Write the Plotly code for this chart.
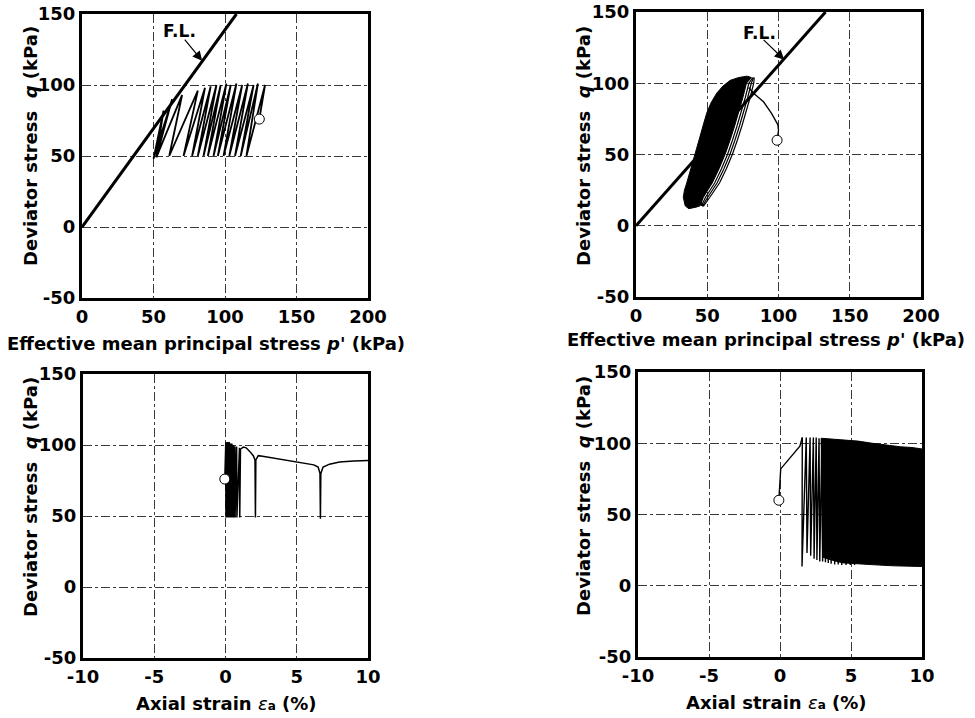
import plotly.graph_objects as go

# ---------------- data ----------------
# Top-left: effective stress path, test A
fl_a_p = [0, 108]
fl_a_q = [0, 150]
tl_p = [124, 128, 115, 123, 111, 120, 107, 116, 103, 112, 99, 108, 95, 104, 92, 101,
        88, 97, 85, 94, 81, 90, 77, 86, 71, 81, 61, 70, 52, 63, 50, 57, 52]
tl_q = [76, 100, 50, 101, 50, 100, 50, 101, 50, 100, 50, 101, 50, 100, 50, 101,
        50, 100, 50, 100, 50, 99, 50, 98, 50, 96, 50, 93, 49, 90, 48, 82, 49]
tl_start_p = [124]
tl_start_q = [76]

# Top-right: effective stress path, test B
fl_b_p = [0, 133]
fl_b_q = [0, 150]
tr_init_p = [99, 100, 99.5, 97.5, 95, 89.5, 82.5, 79]
tr_init_q = [60, 67, 71, 75, 79, 87, 93, 97]
tr_leg_q = [104, 100, 90, 80, 70, 60, 50, 40, 30, 20, 14, 18]
tr_leg1_p = [83, 82.6, 80.1, 77.3, 74.3, 71.1, 67.6, 63.4, 58.6, 51.8, 47.5, 45]
tr_leg2_p = [82.5, 80.9, 78.4, 75.6, 72.6, 69.4, 65.9, 61.7, 56.9, 50.3, 46.8, 44.5]
tr_leg3_p = [82, 79.2, 76.7, 73.9, 70.9, 67.7, 64.2, 60.0, 55.2, 48.8, 46.0, 44]
tr_blob_p = [37, 34.5, 33.2, 34, 35.6, 38, 40.2, 42.5, 44.9, 47, 49.6, 52.5, 56.6, 61, 66,
             72, 78, 81, 77.5, 75.0, 72.2, 69.2, 66.0, 62.5, 58.3, 53.5, 47.3, 45.0, 42, 39, 37]
tr_blob_q = [12, 14, 20, 25, 30, 38, 46, 54, 62.5, 70, 79, 86, 93, 98, 102,
             104, 105, 104, 100, 90, 80, 70, 60, 50, 40, 30, 20, 14, 13, 12.5, 12]
tr_start_p = [99]
tr_start_q = [60]

# Bottom-left: q vs axial strain, test A
bl_e = [-0.05, 0.02, 0.03, 0.06, 0.07, 0.10, 0.11, 0.14, 0.15, 0.19, 0.20, 0.24, 0.25,
        0.29, 0.30, 0.34, 0.35, 0.39, 0.40, 0.45, 0.46, 0.51, 0.52, 0.58, 0.59, 0.66,
        0.67, 0.78, 0.80, 0.98, 1.0, 1.05, 1.25, 1.45, 1.7, 1.95, 2.07, 2.1, 2.13, 2.3,
        2.6, 3.5, 4.5, 5.5, 6.2, 6.5, 6.63, 6.66, 6.69, 6.85, 7.3, 8.0, 9.0, 10.0]
bl_q = [76, 102, 49, 102, 49, 101, 49, 102, 49, 101, 49, 102, 49,
        101, 49, 101, 49, 101, 49, 101, 49, 100, 49, 100, 49, 99,
        49, 99, 49, 98, 49, 97, 98.5, 98, 95.5, 92.5, 89.5, 49, 89.5, 92.5,
        92, 90.5, 88.5, 87, 86, 84.5, 80, 48, 80, 84.5, 86.5, 88, 88.8, 89]
bl_start_e = [-0.05]
bl_start_q = [76]

# Bottom-right: q vs axial strain, test B
br_init_e = [-0.08, 0.05, 1.4, 1.57]
br_init_q = [60, 82, 98, 104]
br_cyc_e = [1.57, 1.55, 1.85, 1.9, 2.12, 2.16, 2.35, 2.4, 2.55, 2.6, 2.75, 2.8, 2.95, 3.0,
            3.15, 3.2, 3.35, 3.4, 3.55, 3.6, 3.8, 3.85, 4.05, 4.1, 4.3, 4.35, 4.6, 4.65,
            4.9, 4.95, 5.2, 5.25, 5.5]
br_cyc_q = [104, 13.5, 104, 23, 104, 21, 104, 19, 104, 18, 103.5, 17, 103, 17,
            103, 16.5, 103, 16, 102.5, 15.5, 102.5, 15, 102, 15, 102, 14.5, 102, 14.5,
            101.5, 14.5, 101.5, 14.5, 101]
br_band_e = [2.9, 3.5, 4.5, 5.5, 6.5, 7.5, 8.5, 9.3, 10, 10, 9, 8, 7, 6, 5, 4.5, 4, 3.5, 3.0, 2.9]
br_band_q = [103.5, 103, 102, 101.5, 100, 98.5, 97.5, 97, 96, 13.5, 13.5, 14, 14.5, 15,
             15.5, 16, 17, 18.5, 20, 103.5]
br_start_e = [-0.08]
br_start_q = [60]

p_ticks = [0, 50, 100, 150, 200]
p_tick_text = ["0", "50", "100", "150", "200"]
e_ticks = [-10, -5, 0, 5, 10]
e_tick_text = ["-10", "-5", "0", "5", "10"]
q_ticks = [-50, 0, 50, 100, 150]
q_tick_text = ["-50", "0", "50", "100", "150"]

# ---------------- figure ----------------
FONT = "DejaVu Sans"
GRID = "#3a3a3a"
fig = go.Figure()


def line(x, y, ax, w=1.5, **kw):
    fig.add_trace(go.Scatter(x=x, y=y, mode="lines", xaxis="x" + ax, yaxis="y" + ax,
                             line=dict(color="black", width=w), hoverinfo="skip", **kw))


def circle(x, y, ax):
    fig.add_trace(go.Scatter(x=x, y=y, mode="markers", xaxis="x" + ax, yaxis="y" + ax,
                             marker=dict(size=10, color="white", line=dict(color="black", width=1)),
                             hoverinfo="skip"))


# panel 1
line(fl_a_p, fl_a_q, "", w=3)
line(tl_p, tl_q, "", w=1.8)
circle(tl_start_p, tl_start_q, "")
# panel 2
line(fl_b_p, fl_b_q, "2", w=3)
fig.add_trace(go.Scatter(x=tr_blob_p, y=tr_blob_q, mode="lines", fill="toself", fillcolor="black",
                         xaxis="x2", yaxis="y2", line=dict(color="black", width=1), hoverinfo="skip"))
line(tr_leg1_p, tr_leg_q, "2", w=1.2)
line(tr_leg2_p, tr_leg_q, "2", w=1.2)
line(tr_leg3_p, tr_leg_q, "2", w=1.2)
line(tr_init_p, tr_init_q, "2", w=1.3)
circle(tr_start_p, tr_start_q, "2")
# panel 3
line(bl_e, bl_q, "3", w=1.5)
circle(bl_start_e, bl_start_q, "3")
# panel 4
fig.add_trace(go.Scatter(x=br_band_e, y=br_band_q, mode="lines", fill="toself", fillcolor="black",
                         xaxis="x4", yaxis="y4", line=dict(color="black", width=1), hoverinfo="skip"))
line(br_cyc_e, br_cyc_q, "4", w=1.4)
line(br_init_e, br_init_q, "4", w=1.4)
circle(br_start_e, br_start_q, "4")


def axis(domain, rng, ticks, text, anchor):
    return dict(domain=domain, range=rng, tickvals=ticks, ticktext=text, anchor=anchor,
                showgrid=True, gridcolor=GRID, griddash="dashdot", gridwidth=1,
                zeroline=False, showline=True, linecolor="black", linewidth=3, mirror=True,
                ticks="", automargin=False,
                tickfont=dict(family=FONT, size=18, color="black", weight="bold"),
                fixedrange=True)


W, H = 975, 718
def dx(a, b):
    return [a / W, b / W]
def dy(top, bottom):
    return [1 - bottom / H, 1 - top / H]


fig.update_layout(
    width=W, height=H, margin=dict(l=0, r=0, t=0, b=0, pad=0, autoexpand=False),
    paper_bgcolor="white", plot_bgcolor="white", showlegend=False,
    font=dict(family=FONT, size=18, color="black", weight="bold"),
    xaxis=axis(dx(82, 368), [0, 200], p_ticks, p_tick_text, "y"),
    yaxis=axis(dy(14, 298), [-50, 150], q_ticks, q_tick_text, "x"),
    xaxis2=axis(dx(636, 921), [0, 200], p_ticks, p_tick_text, "y2"),
    yaxis2=axis(dy(12, 297), [-50, 150], q_ticks, q_tick_text, "x2"),
    xaxis3=axis(dx(83, 368), [-10, 10], e_ticks, e_tick_text, "y3"),
    yaxis3=axis(dy(374, 658), [-50, 150], q_ticks, q_tick_text, "x3"),
    xaxis4=axis(dx(638, 922), [-10, 10], e_ticks, e_tick_text, "y4"),
    yaxis4=axis(dy(372, 657), [-50, 150], q_ticks, q_tick_text, "x4"),
)

ytitle = "Deviator stress  <i>q</i> (kPa)"
ptitle = "Effective mean principal stress <i>p</i>' (kPa)"
etitle = "Axial strain <span style='font-weight:normal'><i>ε</i></span><span style='font-size:12px'>a</span> (%)"
titles = [
    (ptitle, 206, 343, 0), (ptitle, 766, 340, 0),
    (etitle, 226, 703, 0), (etitle, 776, 702, 0),
    (ytitle, 30, 146, -90), (ytitle, 583, 146, -90),
    (ytitle, 30, 497, -90), (ytitle, 583, 496, -90),
]
for txt, px, py, ang in titles:
    fig.add_annotation(text=txt, x=px / W, y=1 - py / H, xref="paper", yref="paper",
                       showarrow=False, textangle=ang, xanchor="center", yanchor="middle",
                       font=dict(family=FONT, size=18, color="black", weight="bold"))

# F.L. labels and arrows
fig.add_annotation(text="F.L.", x=68, y=138, xref="x", yref="y", showarrow=False,
                   font=dict(family=FONT, size=17, color="black", weight="bold"))
fig.add_annotation(text="", x=84, y=117, ax=71, ay=133, xref="x", yref="y", axref="x", ayref="y",
                   showarrow=True, arrowhead=2, arrowsize=1.6, arrowwidth=1.2, arrowcolor="black")
fig.add_annotation(text="F.L.", x=87, y=135.6, xref="x2", yref="y2", showarrow=False,
                   font=dict(family=FONT, size=17, color="black", weight="bold"))
fig.add_annotation(text="", x=104, y=116.5, ax=88.5, ay=131.5, xref="x2", yref="y2", axref="x2", ayref="y2",
                   showarrow=True, arrowhead=2, arrowsize=1.6, arrowwidth=1.2, arrowcolor="black")

fig.write_html("out.html", config={"displayModeBar": False, "staticPlot": True},
               post_script="document.body.style.margin='0';document.body.style.overflow='hidden';")
